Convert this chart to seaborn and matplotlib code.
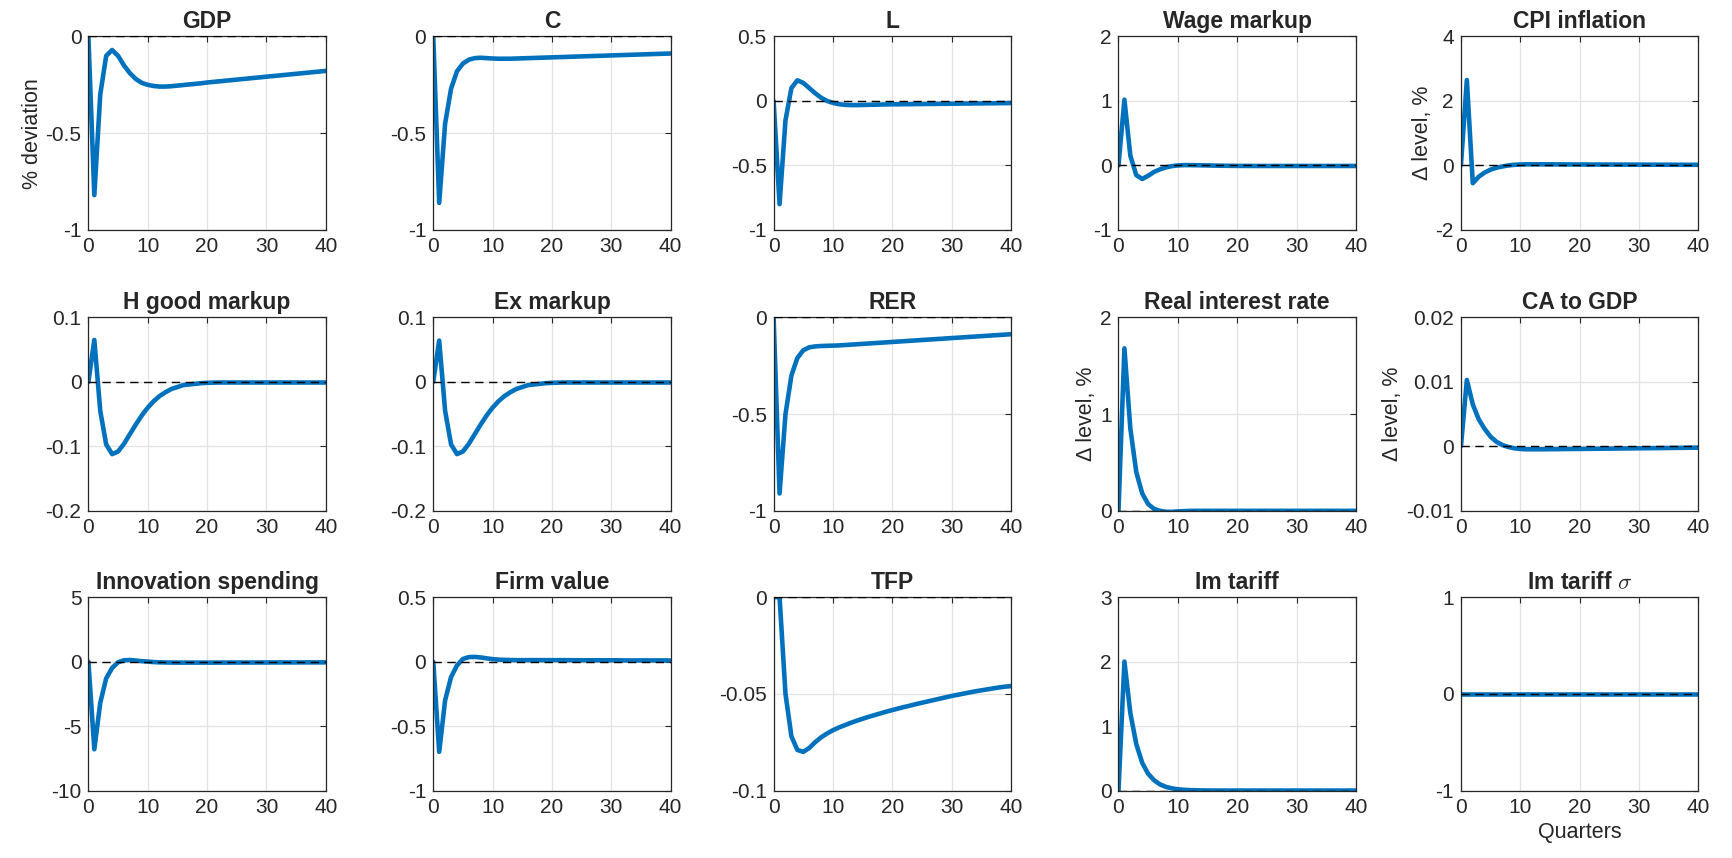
import numpy as np
import pandas as pd
import seaborn as sns
import matplotlib.pyplot as plt
from matplotlib.ticker import FuncFormatter

# quarters after the shock
quarters = list(range(41))

gdp = [0, -0.82, -0.30, -0.10, -0.07, -0.10, -0.15, -0.19, -0.22, -0.24,
       -0.25, -0.256, -0.259, -0.259, -0.257, -0.254, -0.251, -0.248, -0.245, -0.242,
       -0.238, -0.235, -0.232, -0.229, -0.226, -0.223, -0.220, -0.217, -0.214, -0.211,
       -0.208, -0.205, -0.202, -0.199, -0.196, -0.193, -0.190, -0.187, -0.184, -0.181,
       -0.178]
cons = [0, -0.86, -0.45, -0.27, -0.18, -0.14, -0.12, -0.112, -0.11, -0.112,
        -0.114, -0.115, -0.115, -0.115, -0.114, -0.113, -0.112, -0.111, -0.110, -0.109,
        -0.108, -0.107, -0.106, -0.105, -0.104, -0.103, -0.102, -0.101, -0.100, -0.099,
        -0.098, -0.097, -0.096, -0.095, -0.094, -0.093, -0.092, -0.091, -0.090, -0.089,
        -0.088]
labor = [0, -0.80, -0.15, 0.10, 0.16, 0.14, 0.10, 0.06, 0.025, 0.0,
         -0.015, -0.025, -0.03, -0.032, -0.032, -0.031, -0.030, -0.029, -0.028, -0.027,
         -0.026, -0.026, -0.025, -0.025, -0.024, -0.024, -0.023, -0.023, -0.022, -0.022,
         -0.021, -0.021, -0.020, -0.020, -0.019, -0.019, -0.018, -0.018, -0.017, -0.017,
         -0.016]
wage_markup = [0, 1.02, 0.15, -0.15, -0.21, -0.16, -0.10, -0.06, -0.03, -0.01,
               0.0, 0.005, 0.005, 0.004, 0.002, 0.0, -0.002, -0.004, -0.005, -0.006,
               -0.007, -0.007, -0.008, -0.008, -0.008, -0.008, -0.008, -0.008, -0.008, -0.008,
               -0.008, -0.008, -0.008, -0.008, -0.008, -0.008, -0.008, -0.008, -0.008, -0.008,
               -0.008]
cpi = [0, 2.65, -0.55, -0.35, -0.22, -0.13, -0.07, -0.03, 0.0, 0.02,
       0.03, 0.035, 0.035, 0.035, 0.035, 0.034, 0.033, 0.032, 0.031, 0.030,
       0.030, 0.029, 0.028, 0.028, 0.027, 0.027, 0.026, 0.026, 0.025, 0.025,
       0.024, 0.024, 0.023, 0.023, 0.022, 0.022, 0.021, 0.021, 0.020, 0.020,
       0.020]
h_markup = [0, 0.065, -0.045, -0.097, -0.112, -0.108, -0.096, -0.081, -0.066, -0.052,
            -0.040, -0.030, -0.022, -0.016, -0.011, -0.008, -0.005, -0.004, -0.003, -0.002,
            -0.0015, -0.0012, -0.001, -0.001, -0.001, -0.001, -0.001, -0.001, -0.001, -0.001,
            -0.001, -0.001, -0.001, -0.001, -0.001, -0.001, -0.001, -0.001, -0.001, -0.001,
            -0.001]
ex_markup = [0, 0.064, -0.045, -0.097, -0.112, -0.108, -0.096, -0.081, -0.066, -0.052,
             -0.040, -0.030, -0.022, -0.016, -0.011, -0.008, -0.005, -0.004, -0.003, -0.002,
             -0.0015, -0.0012, -0.001, -0.001, -0.001, -0.001, -0.001, -0.001, -0.001, -0.001,
             -0.001, -0.001, -0.001, -0.001, -0.001, -0.001, -0.001, -0.001, -0.001, -0.001,
             -0.001]
rer = [0, -0.91, -0.50, -0.30, -0.21, -0.17, -0.155, -0.15, -0.148, -0.147,
       -0.146, -0.145, -0.143, -0.141, -0.139, -0.137, -0.135, -0.133, -0.131, -0.129,
       -0.127, -0.125, -0.123, -0.121, -0.119, -0.117, -0.115, -0.113, -0.111, -0.109,
       -0.107, -0.105, -0.103, -0.101, -0.099, -0.097, -0.095, -0.093, -0.091, -0.089,
       -0.087]
real_rate = [0, 1.68, 0.85, 0.40, 0.18, 0.07, 0.02, 0.0, -0.01, -0.01,
             -0.006, -0.003, -0.001, 0.0, 0.0, 0.0, 0.0, 0.0, 0.0, 0.0,
             0.0, 0.0, 0.0, 0.0, 0.0, 0.0, 0.0, 0.0, 0.0, 0.0,
             0.0, 0.0, 0.0, 0.0, 0.0, 0.0, 0.0, 0.0, 0.0, 0.0,
             0.0]
ca_gdp = [0, 0.0103, 0.0065, 0.0042, 0.0027, 0.0015, 0.0007, 0.0002, -0.0001, -0.0003,
          -0.0004, -0.00045, -0.00045, -0.00045, -0.00045, -0.00044, -0.00043, -0.00042, -0.00041, -0.0004,
          -0.0004, -0.00039, -0.00038, -0.00037, -0.00036, -0.00035, -0.00034, -0.00033, -0.00032, -0.00031,
          -0.0003, -0.00029, -0.00028, -0.00027, -0.00026, -0.00025, -0.00024, -0.00023, -0.00022, -0.00021,
          -0.0002]
innovation = [0, -6.8, -3.2, -1.3, -0.5, -0.05, 0.10, 0.12, 0.08, 0.03,
              0.0, -0.04, -0.06, -0.07, -0.075, -0.08, -0.08, -0.08, -0.08, -0.08,
              -0.08, -0.08, -0.078, -0.077, -0.076, -0.075, -0.074, -0.073, -0.072, -0.071,
              -0.07, -0.069, -0.068, -0.067, -0.066, -0.065, -0.064, -0.063, -0.062, -0.061,
              -0.06]
firm_value = [0, -0.70, -0.30, -0.12, -0.03, 0.02, 0.035, 0.036, 0.032, 0.025,
              0.019, 0.015, 0.013, 0.012, 0.011, 0.011, 0.011, 0.011, 0.011, 0.011,
              0.011, 0.011, 0.011, 0.011, 0.010, 0.010, 0.010, 0.010, 0.010, 0.010,
              0.010, 0.010, 0.009, 0.009, 0.009, 0.009, 0.009, 0.009, 0.009, 0.009,
              0.008]
tfp = [0, 0.0, -0.050, -0.072, -0.079, -0.080, -0.078, -0.075, -0.0725, -0.0705,
       -0.0688, -0.0674, -0.0662, -0.0650, -0.0639, -0.0629, -0.0619, -0.0610, -0.0601, -0.0592,
       -0.0584, -0.0576, -0.0568, -0.0561, -0.0553, -0.0546, -0.0539, -0.0532, -0.0525, -0.0518,
       -0.0511, -0.0505, -0.0499, -0.0493, -0.0487, -0.0482, -0.0477, -0.0472, -0.0467, -0.0463,
       -0.0460]
im_tariff = [0, 2.0, 1.2, 0.72, 0.43, 0.26, 0.16, 0.095, 0.057, 0.034,
             0.02, 0.012, 0.007, 0.004, 0.002, 0.001, 0.0005, 0.0, 0.0, 0.0,
             0.0, 0.0, 0.0, 0.0, 0.0, 0.0, 0.0, 0.0, 0.0, 0.0,
             0.0, 0.0, 0.0, 0.0, 0.0, 0.0, 0.0, 0.0, 0.0, 0.0,
             0.0]
im_tariff_sigma = [0.0] * 41

titles = ["GDP", "C", "L", "Wage markup", "CPI inflation",
          "H good markup", "Ex markup", "RER", "Real interest rate", "CA to GDP",
          "Innovation spending", "Firm value", "TFP", "Im tariff", r"Im tariff $\sigma$"]
series = [gdp, cons, labor, wage_markup, cpi,
          h_markup, ex_markup, rer, real_rate, ca_gdp,
          innovation, firm_value, tfp, im_tariff, im_tariff_sigma]
ylims = [(-1, 0), (-1, 0), (-1, 0.5), (-1, 2), (-2, 4),
         (-0.2, 0.1), (-0.2, 0.1), (-1, 0), (0, 2), (-0.01, 0.02),
         (-10, 5), (-1, 0.5), (-0.1, 0), (0, 3), (-1, 1)]
yticks = [[-1, -0.5, 0], [-1, -0.5, 0], [-1, -0.5, 0, 0.5], [-1, 0, 1, 2], [-2, 0, 2, 4],
          [-0.2, -0.1, 0, 0.1], [-0.2, -0.1, 0, 0.1], [-1, -0.5, 0], [0, 1, 2], [-0.01, 0, 0.01, 0.02],
          [-10, -5, 0, 5], [-1, -0.5, 0, 0.5], [-0.1, -0.05, 0], [0, 1, 2, 3], [-1, 0, 1]]
ylabels = {0: "% deviation", 4: "\u0394 level, %", 8: "\u0394 level, %", 9: "\u0394 level, %"}

sns.set_style("white")
plt.rcParams['font.family'] = ['Liberation Sans', 'DejaVu Sans']
plt.rcParams['mathtext.fontset'] = 'cm'

fig = plt.figure(figsize=(17.33, 8.58), dpi=100)

lefts = [0.051, 0.250, 0.4464, 0.6454, 0.843]
bottoms = [0.732, 0.4046, 0.0786]
w, h = 0.137, 0.2255

for i, (title, vals) in enumerate(zip(titles, series)):
    ax = fig.add_axes([lefts[i % 5], bottoms[i // 5], w, h])
    df = pd.DataFrame({"quarter": quarters, "value": vals})
    sns.lineplot(data=df, x="quarter", y="value", ax=ax, color="#0072BD", linewidth=3.3)
    ax.axhline(0, color="black", linestyle=(0, (6, 4)), linewidth=1.0, zorder=5)
    ax.set_xlim(0, 40)
    ax.set_ylim(*ylims[i])
    ax.set_xticks([0, 10, 20, 30, 40])
    ax.set_yticks(yticks[i])
    ax.yaxis.set_major_formatter(FuncFormatter(lambda v, p: "%g" % v))
    ax.grid(True, color="#e3e3e3", linewidth=0.9)
    ax.set_axisbelow(True)
    ax.tick_params(direction="in", length=4, width=0.8, top=True, right=True,
                   labelsize=15, colors="#262626", labelcolor="#262626", pad=5)
    for sp in ax.spines.values():
        sp.set_color("#262626")
        sp.set_linewidth(0.9)
    ax.set_title(title, fontsize=16.5, fontweight="bold", pad=6)
    ax.set_xlabel("")
    ax.set_ylabel(ylabels.get(i, ""), fontsize=15.5, color="#262626", labelpad=2)

fig.axes[-1].set_xlabel("Quarters", fontsize=15.5, color="#262626")

fig.savefig("out.png", dpi=100)
